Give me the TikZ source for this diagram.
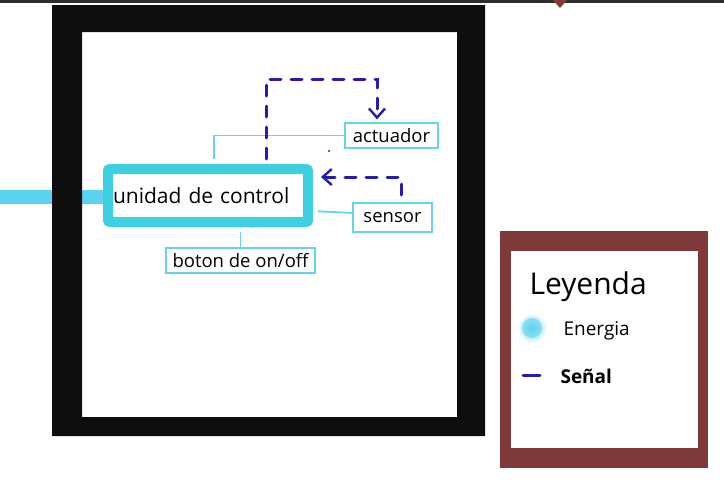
\documentclass[tikz,border=0pt]{standalone}
\usepackage{fontspec}
\setmainfont{Open Sans}
\usepackage{xcolor}
\usepackage{tikz}
\usetikzlibrary{positioning, calc, arrows.meta}
\definecolor{ctrlc}{RGB}{62,208,224}
\definecolor{thinc}{RGB}{100,212,230}
\definecolor{energyc}{RGB}{90,210,240}
\definecolor{signalc}{RGB}{38,28,172}
\definecolor{legendc}{RGB}{126,58,58}
\definecolor{framec}{RGB}{14,14,14}

\begin{document}
\begin{tikzpicture}[x=1pt, y=-1pt,
  box/.style={draw=thinc, line width=1.3pt, inner sep=0pt,
    font=\fontsize{18.5}{22}\selectfont},
  link/.style={thinc, line width=1.8pt},
  signal/.style={signalc, line width=3pt, line cap=round,
    dash pattern=on 11pt off 10pt},
  sigtip/.style={-{Straight Barb[length=9pt, width=16pt, line width=2.4pt]}}]

% canvas: 724 x 491, y grows downwards
\useasboundingbox (0,0) rectangle (724,491);

%% ── top strip ────────────────────────────────────────────────────
\fill[black!82] (0,0) rectangle (724,3);
\fill[legendc] (553,0) -- (567,0) -- (560,8) -- cycle;

%% ── energy feed (under the frame) ────────────────────────────────
\coordinate (ein) at (0,197);
\draw[energyc, line width=14pt] (ein) -- (105,197);

%% ── system frame ─────────────────────────────────────────────────
\fill[framec, even odd rule] (52,5) rectangle (485,436)
                             (82,32) rectangle (457,417);

%% ── blocks ───────────────────────────────────────────────────────
\node[draw=ctrlc, line width=10pt, rounded corners=2pt, fill=white,
      minimum height=53pt, text width=190pt, inner xsep=5pt, inner ysep=0pt,
      align=left, font=\fontsize{21}{25}\selectfont]
  (ctrl) at (208,195.5) {unidad de control};
\node[box, minimum width=93pt, minimum height=25pt] (act)   at (391.5,135.5) {actuador};
\node[box, minimum width=79pt, minimum height=29pt] (sens)  at (392.5,217.5) {sensor};
\node[box, minimum width=149pt, minimum height=25pt] (boton) at (240.5,260.5) {boton de on/off};

%% ── thin links ───────────────────────────────────────────────────
\coordinate (actx) at (214,0);
\draw[link] (act.west) -| ([yshift=5pt]actx |- ctrl.north);
\draw[link] ([xshift=5pt]$(ctrl.south east)!0.25!(ctrl.north east)$)
  -- ($(sens.north west)!0.35!(sens.south west)$);
\draw[link] ([yshift=-5pt]ctrl.south -| boton.north) -- (boton.north);

%% ── signal paths ─────────────────────────────────────────────────
\coordinate (sigA) at (266,79);
\coordinate (sigB) at (377,79);
\draw[signal, sigtip, shorten >=3pt]
  ([yshift=5pt]sigA |- ctrl.north) -- (sigA) -- (sigB) -- (sigB |- act.north);
\coordinate (sigC) at (401,195);
\coordinate (sigD) at (401,177);
\draw[signal, sigtip, shorten >=8pt] (sigC) -- (sigD) -- (ctrl.east |- sigD);
\fill[signalc] (329,151) circle (1.2pt);

%% ── legend ───────────────────────────────────────────────────────
\fill[legendc] (500,231) rectangle (708,468);
\fill[white]   (511,251) rectangle (698,448);
\node[anchor=base west, font=\fontsize{30}{34}\selectfont] (ley) at (526,294) {Leyenda};
\shade[inner color=energyc, outer color=white] (532,328) circle (15pt);
\fill[energyc, opacity=0.55] (532,328) circle (10pt);
\node[anchor=west, font=\fontsize{19}{23}\selectfont] (en) at (560,331) {Energia};
\draw[signalc, line width=3pt, line cap=round] (523,375) -- (540,375);
\node[anchor=west, font=\fontsize{19}{23}\selectfont\bfseries] (sen) at (557,376) {Señal};

\end{tikzpicture}
\end{document}
